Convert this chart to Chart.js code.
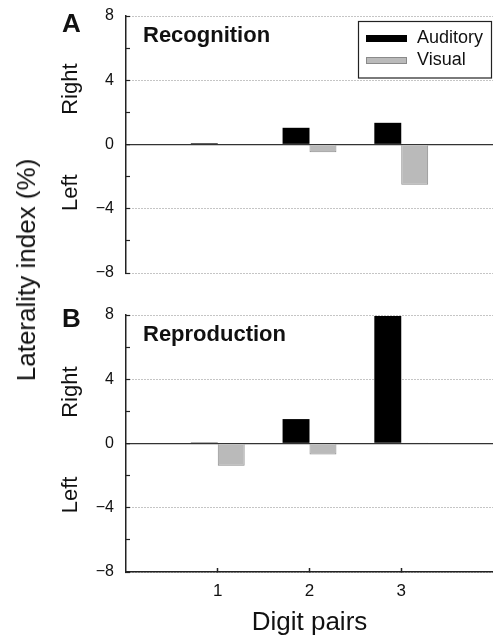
<!DOCTYPE html>
<html>
<head>
<meta charset="utf-8">
<title>Laterality index</title>
<script src="https://cdn.jsdelivr.net/npm/chart.js@4.4.1/dist/chart.umd.min.js"></script>
<style>
  html, body { margin:0; padding:0; background:#fff; }
  #wrap { position:relative; width:493px; height:640px; overflow:hidden; font-family:"Liberation Sans", Arial, sans-serif; color:#111; }
  #wrap canvas { position:absolute; left:0; top:0; }
  #ytitle { position:absolute; left:26px; top:270px; transform:translate(-50%,-50%) rotate(-90deg);
            font-size:26px; line-height:26px; white-space:nowrap; }
</style>
</head>
<body>
<div id="wrap">
  <canvas id="chartA" width="493" height="640"></canvas>
  <canvas id="chartB" width="493" height="640"></canvas>
  <div id="ytitle">Laterality index (%)</div>
</div>
<script>
// data
const PAIRS = [1, 2, 3];
const SERIES = ['Auditory', 'Visual'];
const RECOG_AUDITORY = [0.08, 1.04, 1.35];
const RECOG_VISUAL = [0.05, -0.48, -2.5];
const REPRO_AUDITORY = [0.06, 1.52, 7.93];
const REPRO_VISUAL = [-1.39, -0.69, 0.03];
const Y_LABELS = [-8, -4, 0, 4, 8];

const FONT = '"Liberation Sans", Arial, sans-serif';

function fmtTick(v){ return v < 0 ? '\u2212' + Math.abs(v) : String(v); }

// letters, titles, Right/Left, boxed legend
const panelText = {
  id: 'panelText',
  afterDraw(chart, args, o){
    const { ctx, chartArea } = chart;
    const y = chart.scales.y;
    ctx.save();
    ctx.fillStyle = '#111';
    ctx.textBaseline = 'alphabetic';
    ctx.textAlign = 'left';
    ctx.font = `bold 26px ${FONT}`;
    ctx.fillText(o.letter, 62, o.letterY);
    ctx.font = `bold 22px ${FONT}`;
    ctx.fillText(o.title, 143, chartArea.top + 25.5);

    ctx.font = `22px ${FONT}`;
    ctx.textAlign = 'center';
    [['Right', o.rightAt], ['Left', o.leftAt]].forEach(([t, v]) => {
      ctx.save();
      ctx.translate(77, y.getPixelForValue(v));
      ctx.rotate(-Math.PI / 2);
      ctx.fillText(t, 0, 0);
      ctx.restore();
    });

    if (o.legend){
      ctx.strokeStyle = '#222';
      ctx.lineWidth = 1.2;
      ctx.strokeRect(358.5, 21.5, 133, 56.5);
      ctx.font = `18px ${FONT}`;
      ctx.textAlign = 'left';
      ctx.textBaseline = 'middle';
      chart.data.datasets.forEach((ds, i) => {
        const cy = 38.5 + i * 22;
        ctx.fillStyle = ds.backgroundColor;
        ctx.fillRect(366, cy - 3.5, 41, 7);
        if (ds.borderWidth){
          ctx.strokeStyle = ds.borderColor;
          ctx.lineWidth = 1;
          ctx.strokeRect(366.5, cy - 3, 40, 6);
        }
        ctx.fillStyle = '#111';
        ctx.fillText(ds.label, 417, cy);
      });
    }
    ctx.restore();
  }
};

function makePanel(id, aud, vis, p){
  const toXY = vals => PAIRS.map((x, i) => ({ x, y: vals[i] }));
  return new Chart(document.getElementById(id), {
    type: 'bar',
    data: {
      datasets: [
        { label: SERIES[0], data: toXY(aud), backgroundColor: '#000000', borderColor: '#000000', borderWidth: 0 },
        { label: SERIES[1], data: toXY(vis), backgroundColor: '#bababa', borderColor: '#8a8a8a', borderWidth: 1 }
      ]
    },
    options: {
      responsive: false,
      animation: false,
      events: [],
      categoryPercentage: 0.587,
      barPercentage: 1,
      layout: { padding: { left: 0, right: 0, top: p.top, bottom: p.bottom } },
      plugins: {
        legend: { display: false },
        tooltip: { enabled: false },
        panelText: p.text
      },
      scales: {
        x: {
          type: 'linear',
          display: p.showX,
          offset: false,
          min: 0, max: 4,
          afterFit: s => {
            if (p.showX) s.height = 68;
            s.paddingLeft = 0; s.paddingRight = 0;
          },
          ticks: {
            stepSize: 1, padding: 13, color: '#111',
            font: { family: FONT, size: 17 },
            callback: v => PAIRS.includes(v) ? String(v) : ''
          },
          grid: {
            offset: false,
            drawOnChartArea: false, drawTicks: true, tickLength: -4, tickWidth: 1.5,
            tickColor: c => (c.tick && PAIRS.includes(c.tick.value)) ? '#222' : 'rgba(0,0,0,0)'
          },
          border: { display: true, color: '#222', width: 1.6 },
          title: { display: true, text: 'Digit pairs', color: '#111', font: { family: FONT, size: 26 }, padding: { top: 0, bottom: 2 } }
        },
        y: {
          min: -8, max: 8,
          afterFit: s => {
            s.width = 126;
            s.paddingTop = 0; s.paddingBottom = 0;
          },
          ticks: {
            stepSize: 2, padding: 16, color: '#111',
            font: { family: FONT, size: 16 },
            callback: v => Y_LABELS.includes(v) ? fmtTick(v) : ''
          },
          grid: {
            drawTicks: true, tickLength: -4, tickWidth: 1.2, tickColor: '#222',
            color: c => {
              const v = c.tick ? c.tick.value : null;
              if (v === 0) return '#333';
              return Y_LABELS.includes(v) ? '#8a8a8a' : 'rgba(0,0,0,0)';
            },
            lineWidth: c => (c.tick && c.tick.value === 0) ? 1.3 : 1
          },
          border: {
            display: true, color: '#222', width: 1.5,
            dash: c => (c.tick && c.tick.value !== 0) ? [1, 2] : []
          }
        }
      }
    },
    plugins: [panelText]
  });
}

makePanel('chartA', RECOG_AUDITORY, RECOG_VISUAL, {
  top: 16, bottom: 367, showX: false,
  text: { letter: 'A', letterY: 32, title: 'Recognition', rightAt: 3.45, leftAt: -3.0, legend: true }
});

makePanel('chartB', REPRO_AUDITORY, REPRO_VISUAL, {
  top: 315, bottom: 0, showX: true,
  text: { letter: 'B', letterY: 327, title: 'Reproduction', rightAt: 3.2, leftAt: -3.2, legend: false }
});
</script>
</body>
</html>
